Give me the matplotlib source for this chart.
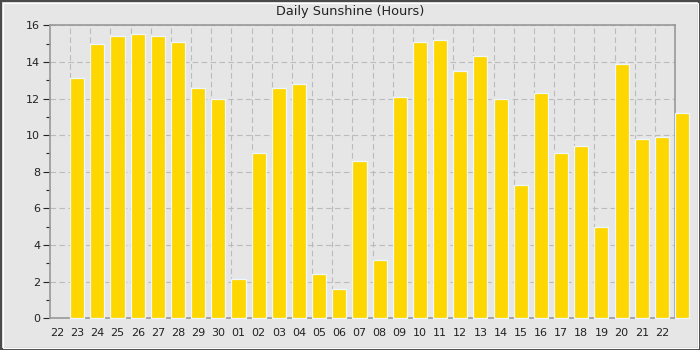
#!/usr/bin/env python

import numpy as np
import matplotlib.pyplot as plt
from matplotlib.patches import Rectangle

day_labels = ['22', '23', '24', '25', '26', '27', '28', '29', '30',
              '01', '02', '03', '04', '05', '06', '07', '08', '09', '10',
              '11', '12', '13', '14', '15', '16', '17', '18', '19', '20',
              '21', '22']

sunshine = [13.1, 15.0, 15.4, 15.5, 15.4, 15.1, 12.6, 12.0,
            2.15, 9.0, 12.6, 12.8, 2.4, 1.6, 8.6, 3.2, 12.1, 15.1,
            15.2, 13.5, 14.3, 12.0, 7.3, 12.3, 9.0, 9.4, 5.0, 13.9,
            9.8, 9.9, 11.2]

bg = '#e6e6e6'

fig = plt.figure(figsize=(7, 3.5), dpi=100, facecolor=bg)
ax = fig.add_axes([50 / 700, 1 - 318.3 / 350, 625 / 700, 293 / 350])
ax.set_facecolor(bg)

# outer dark frame with thin white line inside
fig.patches.append(Rectangle((0, 0), 1, 1, transform=fig.transFigure,
                             fill=False, edgecolor='#4a4a4a', linewidth=3.0))
fig.patches.append(Rectangle((2.5 / 700, 2.5 / 350), 1 - 5 / 700, 1 - 5 / 350,
                             transform=fig.transFigure, fill=False,
                             edgecolor='white', linewidth=0.8))

x = np.arange(1, len(sunshine) + 1)
bars = ax.bar(x, sunshine, width=0.7, color='#ffd700',
              edgecolor='#eef6ff', linewidth=0.9, zorder=3)
for b in bars:
    b.set_clip_on(False)

ax.set_xlim(-0.35, 30.65)
ax.set_ylim(0, 16)

ax.set_xticks(np.arange(len(day_labels)))
ax.set_xticklabels(day_labels)
ax.set_xticks(np.arange(1, 31) - 0.35, minor=True)
ax.set_yticks(np.arange(0, 17, 2))
ax.set_yticks(np.arange(1, 16, 2), minor=True)

ax.tick_params(axis='x', which='both', length=0, pad=7, labelsize=8,
               colors='#222222')
ax.tick_params(axis='y', which='major', length=5, width=0.8, pad=2,
               labelsize=8, colors='#222222')
ax.tick_params(axis='y', which='minor', length=3, width=0.8,
               colors='#222222')

ax.grid(True, axis='x', which='minor', color='#bbbbbb',
        linestyle=(0, (5, 3)), linewidth=0.8, zorder=1)
ax.grid(True, axis='y', which='major', color='#bbbbbb',
        linestyle=(0, (5, 3)), linewidth=0.8, zorder=1)
ax.set_axisbelow(True)

for s in ax.spines.values():
    s.set_color('#999999')
    s.set_linewidth(1.2)

fig.text(0.5, 1 - 12 / 350, 'Daily Sunshine (Hours)', ha='center',
         va='center', fontsize=9.3, color='#222222')

fig.savefig('out.png', dpi=100, facecolor=bg)
